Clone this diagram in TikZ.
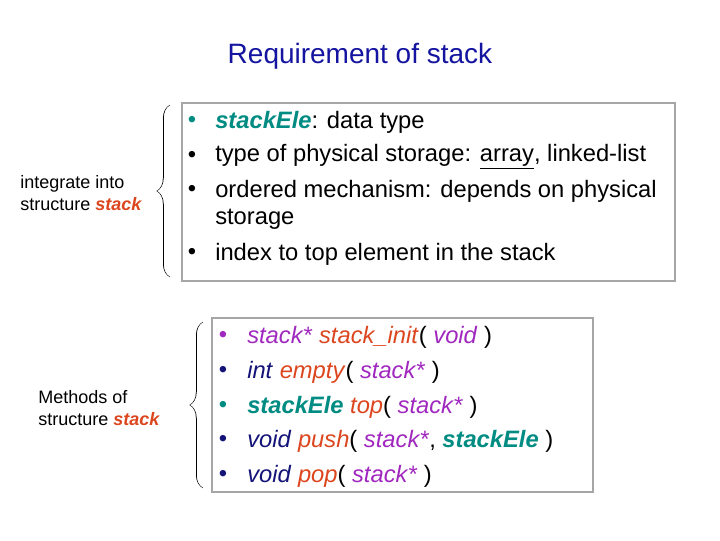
\documentclass[tikz,border=0pt]{standalone}
\usepackage{fontspec}
\setmainfont{Liberation Sans}
\usetikzlibrary{decorations.pathreplacing,calligraphy}
\definecolor{ele}{RGB}{0,140,130}
\definecolor{ptr}{RGB}{160,40,190}
\definecolor{fun}{RGB}{220,70,30}
\definecolor{typ}{RGB}{20,20,120}
\definecolor{head}{RGB}{20,20,160}
\newcommand{\tEle}{\textcolor{ele}{\textbf{\textit{stackEle}}}}
\newcommand{\tPtr}{\textcolor{ptr}{\textit{stack*}}}
\newcommand{\tFun}[1]{\textcolor{fun}{\textit{#1}}}
\newcommand{\tTyp}[1]{\textcolor{typ}{\textit{#1}}}
\begin{document}
\begin{tikzpicture}[x=0.75pt,y=-0.75pt,
  item/.style={anchor=west,inner sep=0pt,font=\fontsize{17.8}{20}\selectfont},
  dot/.style={anchor=center,inner sep=0pt,font=\fontsize{17.8}{20}\selectfont},
  side/.style={align=left,anchor=west,inner sep=0pt,font=\fontsize{13.5}{16}\selectfont},
  panel/.style={draw=gray!70,line width=0.8pt},
  curly/.style={decorate,decoration={calligraphic brace,amplitude=10pt,mirror},line width=0.6pt}]
\useasboundingbox (0,0) rectangle (720,540);
\node[font=\fontsize{21}{24}\selectfont,text=head] (title) at (360,56) {Requirement of stack};
% first panel
\draw[panel] (182,103) rectangle (675,281);
\node[dot,text=ele] at (192,122) {\textbullet};
\foreach \y in {157,191,254} \node[dot] at (192,\y) {\textbullet};
\node[item] (a1) at (215,122) {\tEle: data type};
\node[item] (a2) at (215,157) {type of physical storage: \underline{array}, linked-list};
\node[item] (a3) at (215,191) {ordered mechanism: depends on physical};
\node[item] (a4) at (215,219) {storage};
\node[item] (a5) at (215,254) {index to top element in the stack};
\coordinate (b1top) at (170,105);
\coordinate (b1bot) at (170,277);
\draw[curly] (b1top) -- (b1bot);
\node[side] (lab1) at (20,193) {integrate into\\structure \textcolor{fun}{\textbf{\textit{stack}}}};
% second panel
\draw[panel] (212,318) rectangle (593,492);
\foreach \y/\c in {337/ptr,372/typ,407/ele,441/typ,476/typ} \node[dot,text=\c] at (223,\y) {\textbullet};
\node[item] (m1) at (247,337) {\tPtr{} \tFun{stack\_init}( \textcolor{ptr}{\textit{void}} )};
\node[item] (m2) at (247,372) {\tTyp{int} \tFun{empty}( \tPtr{} )};
\node[item] (m3) at (247,407) {\tEle{} \tFun{top}( \tPtr{} )};
\node[item] (m4) at (247,441) {\tTyp{void} \tFun{push}( \tPtr, \tEle{} )};
\node[item] (m5) at (247,476) {\tTyp{void} \tFun{pop}( \tPtr{} )};
\coordinate (b2top) at (203,322);
\coordinate (b2bot) at (203,488);
\draw[curly] (b2top) -- (b2bot);
\node[side] (lab2) at (38,408) {Methods of\\structure \textcolor{fun}{\textbf{\textit{stack}}}};
\end{tikzpicture}
\end{document}
